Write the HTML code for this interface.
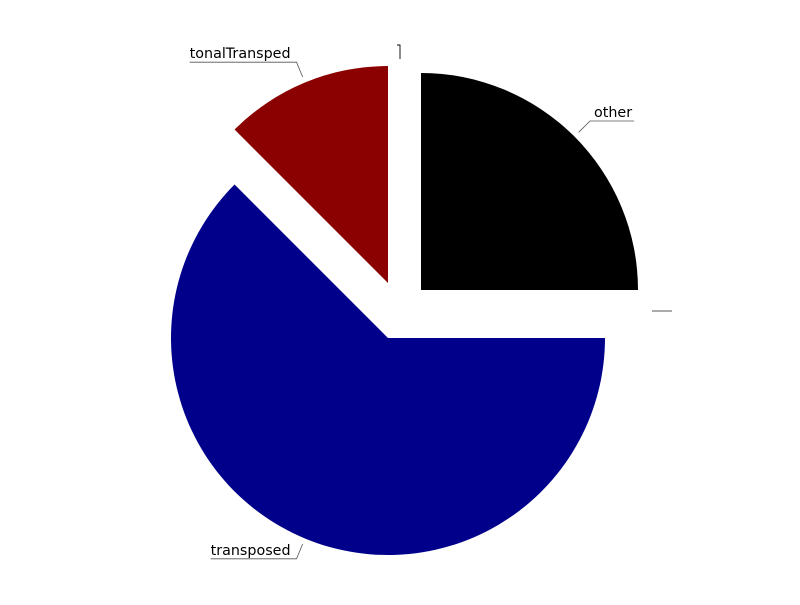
<!DOCTYPE html>
<html><head><meta charset="utf-8"><style>
html,body{margin:0;padding:0;background:#fff;}
svg text{font-family:"DejaVu Sans","Liberation Sans",sans-serif;font-size:14.3px;fill:#000;}
</style></head><body>
<svg id="chart" width="800" height="600"></svg>
<script>
const categories = ["other", "", "transposed", "tonalTransped", ""];
const values = [25, 0, 62.5, 12.5, 0];
const colors = ["#000000", "#888888", "#00008b", "#8b0000", "#888888"];
const offsets = [[33,-48],[25,-27],[0,0],[0,-55],[12,-54]];
const svg = document.getElementById('chart');
const NS = 'http://www.w3.org/2000/svg';
const cx = 388, cy = 338, r = 217;
const total = values.reduce((a,b)=>a+b,0);
function pt(a, rr, ox, oy){ return [cx+ox+rr*Math.sin(a), cy+oy-rr*Math.cos(a)]; }
let start = 0;
values.forEach((v,i)=>{
  const sweep = v/total*2*Math.PI;
  const [ox,oy] = offsets[i];
  const end = start + sweep;
  const mid = start + sweep/2;
  if (v > 0) {
    const p0 = pt(start, r, ox, oy), p1 = pt(end, r, ox, oy);
    const large = sweep > Math.PI ? 1 : 0;
    const path = document.createElementNS(NS,'path');
    path.setAttribute('d', `M${cx+ox},${cy+oy} L${p0[0]},${p0[1]} A${r},${r} 0 ${large} 1 ${p1[0]},${p1[1]} Z`);
    path.setAttribute('fill', colors[i]);
    
    
    svg.appendChild(path);
    const a = pt(mid, r+6, ox, oy), b = pt(mid, r+22, ox, oy);
    const right = Math.sin(mid) >= 0;
    const t = document.createElementNS(NS,'text');
    t.textContent = categories[i];
    
    
    svg.appendChild(t);
    const w = t.getComputedTextLength();
    const len = w + 6;
    const c = [b[0] + (right ? len : -len), b[1]];
    t.setAttribute('x', right ? b[0]+4 : c[0]);
    t.setAttribute('y', b[1]-4);
    const line = document.createElementNS(NS,'polyline');
    line.setAttribute('points', `${a[0]},${a[1]} ${b[0]},${b[1]} ${c[0]},${c[1]}`);
    line.setAttribute('fill','none');
    line.setAttribute('stroke', '#555');
    line.setAttribute('stroke-width','0.8');
    
    
    svg.appendChild(line);
  } else {
    const b = pt(mid, r+22, ox, oy);
    const line = document.createElementNS(NS,'polyline');
    const horiz = Math.abs(Math.sin(mid)) > 0.5;
    line.setAttribute('points', horiz ? `${b[0]},${b[1]} ${b[0]+20},${b[1]}` : `${b[0]-3},${b[1]} ${b[0]},${b[1]} ${b[0]},${b[1]+14}`);
    line.setAttribute('fill','none');
    line.setAttribute('stroke', horiz ? '#555' : '#000');
    line.setAttribute('stroke-width','0.9');
    
    
    svg.appendChild(line);
  }
  start = end;
});
</script>
</body></html>
